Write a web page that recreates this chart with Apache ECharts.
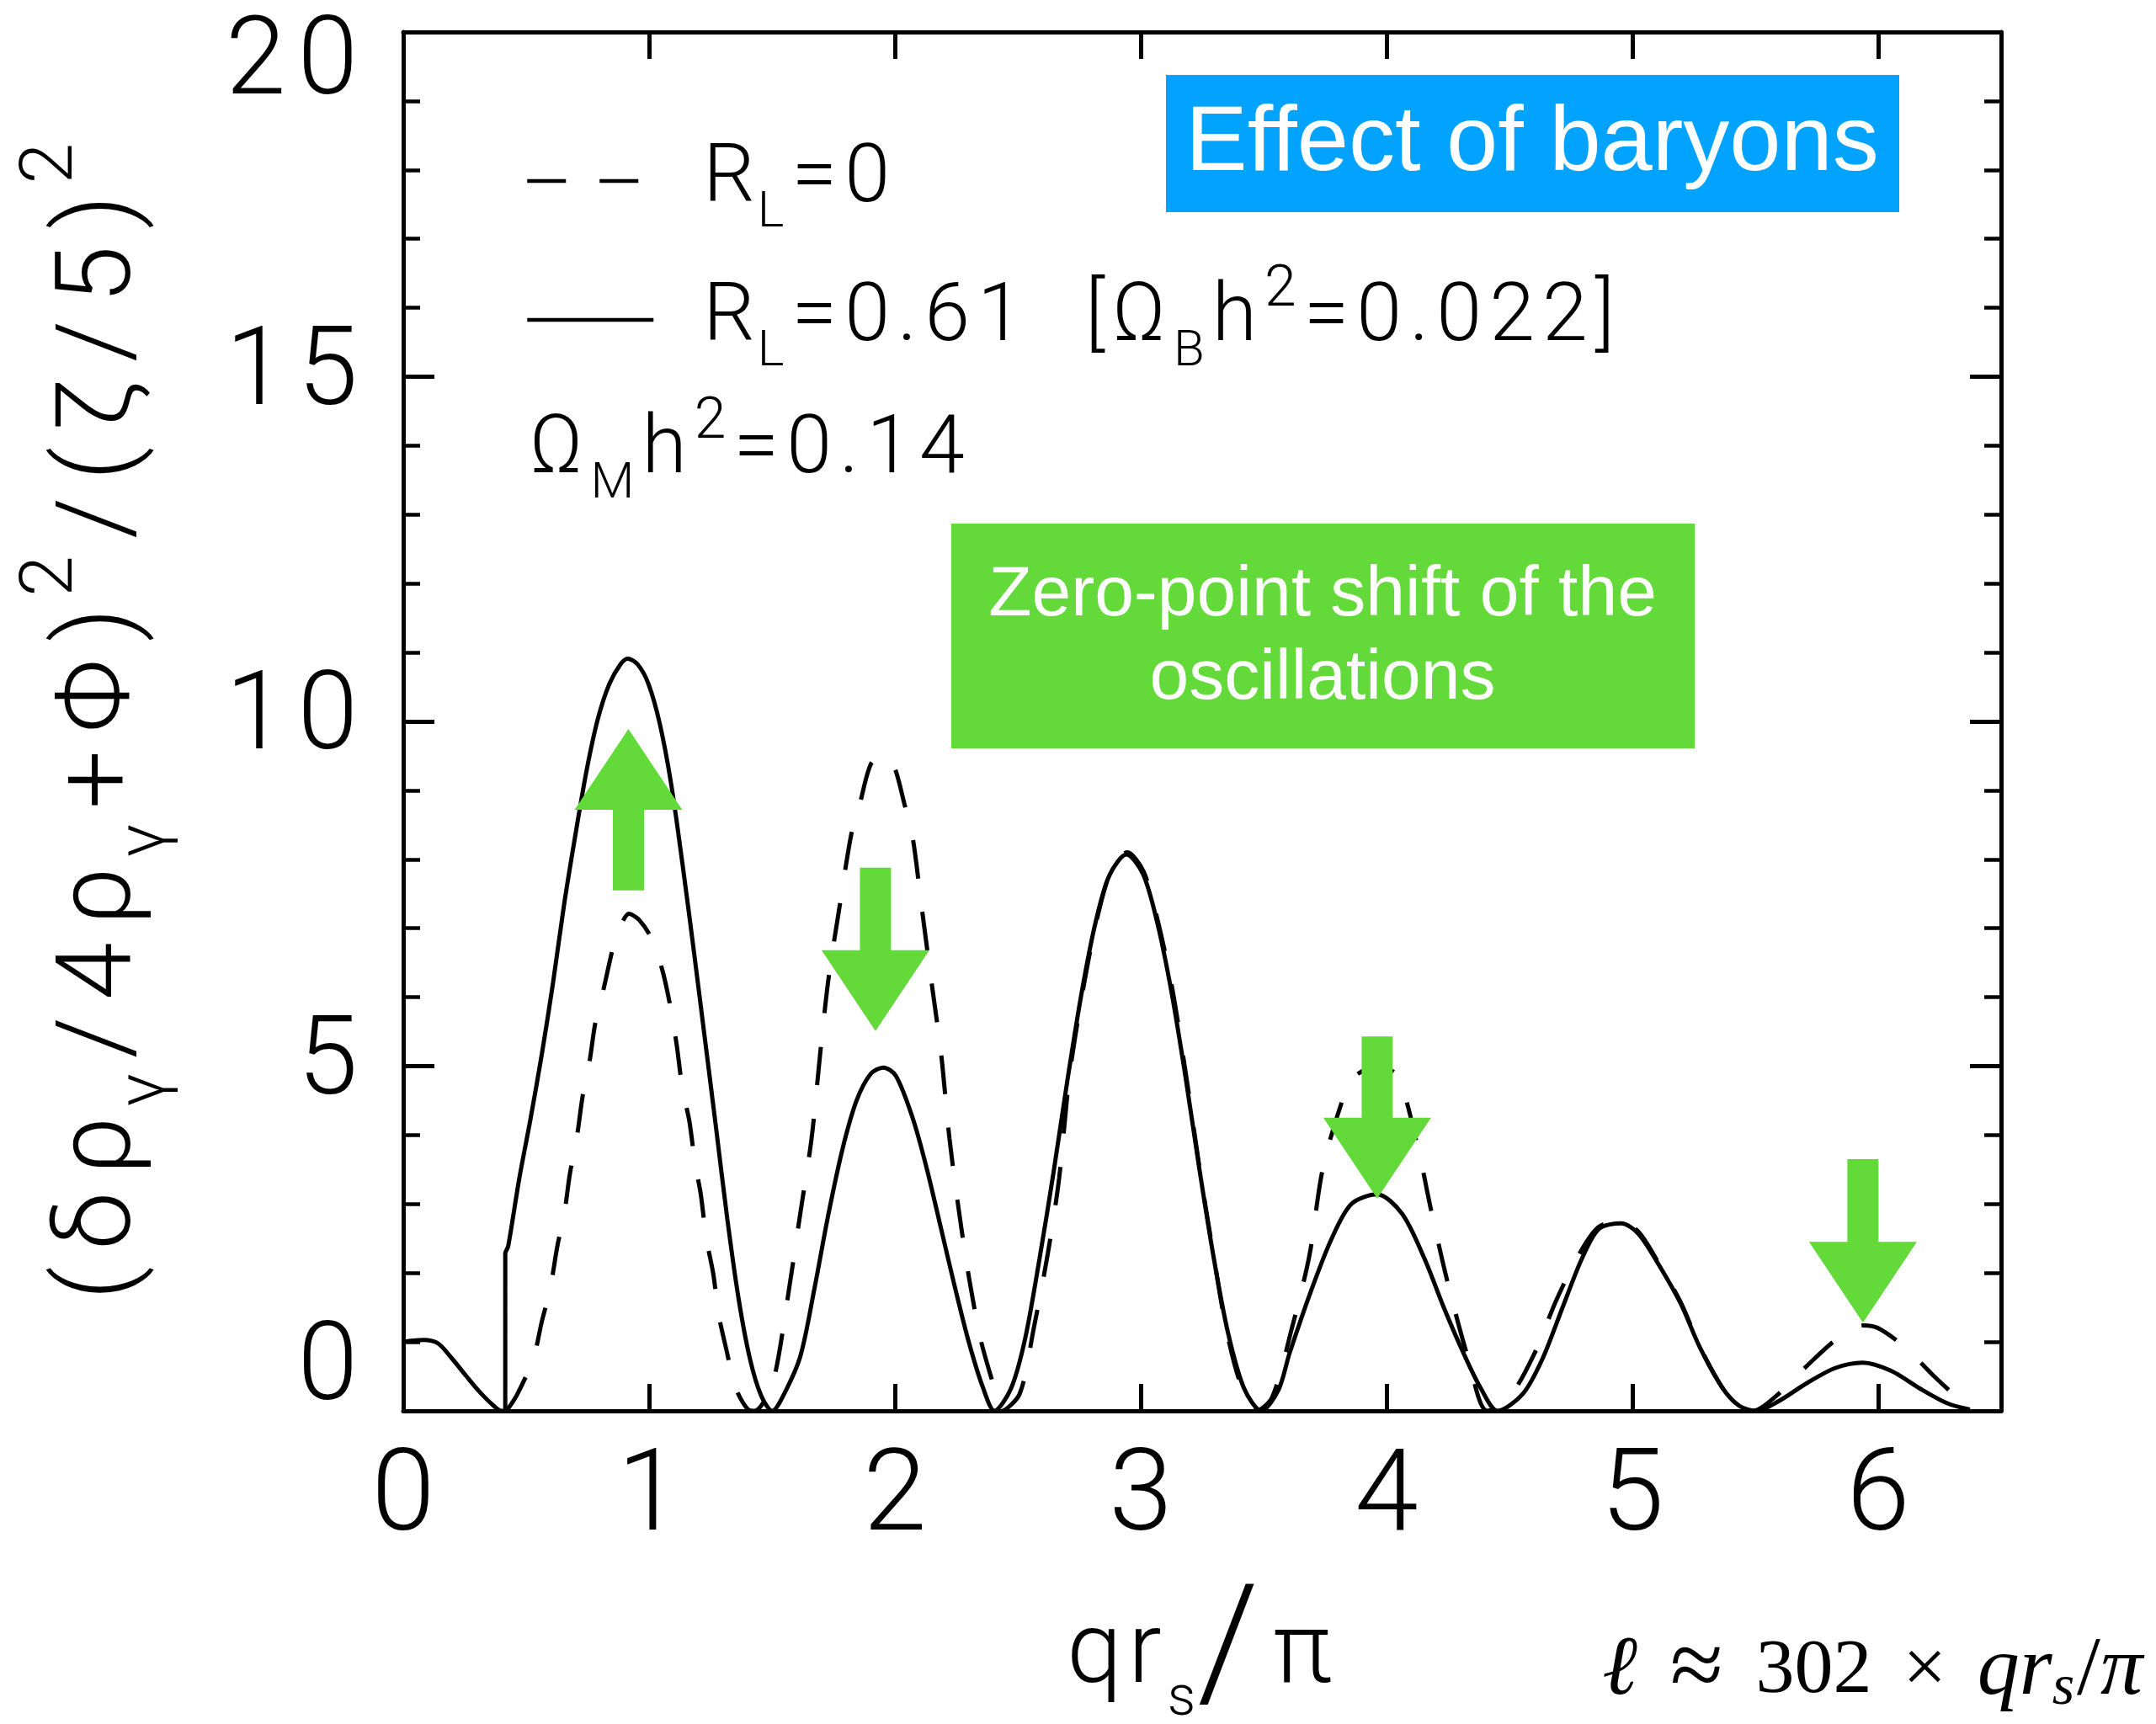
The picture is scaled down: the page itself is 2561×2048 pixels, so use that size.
<!DOCTYPE html>
<html><head><meta charset="utf-8">
<script src="https://cdn.jsdelivr.net/npm/echarts@6/dist/echarts.min.js"></script>
<style>html,body{margin:0;padding:0;background:#fff}#c{width:2561px;height:2048px}</style>
</head><body><div id="c"></div>
<script>
// ---- data ----
const solidX = [0.000,0.040,0.083,0.141,0.198,0.255,0.312,0.369,0.400,0.415,0.415,0.427,0.472,0.518,0.564,0.609,0.655,0.701,0.747,0.792,0.838,0.884,0.913,0.953,0.998,1.044,1.090,1.136,1.181,1.227,1.273,1.318,1.364,1.410,1.456,1.501,1.550,1.616,1.673,1.730,1.787,1.844,1.902,1.953,2.004,2.073,2.130,2.188,2.245,2.302,2.359,2.405,2.473,2.530,2.588,2.645,2.702,2.759,2.816,2.873,2.942,3.010,3.068,3.125,3.182,3.239,3.296,3.354,3.420,3.491,3.560,3.605,3.697,3.777,3.857,3.962,4.063,4.154,4.234,4.314,4.383,4.452,4.555,4.635,4.715,4.795,4.864,4.955,5.024,5.104,5.196,5.276,5.367,5.436,5.505,5.595,5.709,5.824,5.938,6.053,6.167,6.281,6.373];
const solidY = [1.00,1.02,1.03,0.98,0.76,0.51,0.27,0.07,0.00,0.00,2.28,2.39,3.37,4.24,5.18,6.20,7.36,8.37,9.31,10.04,10.54,10.83,10.91,10.83,10.54,9.96,9.09,7.93,6.70,5.40,4.09,2.79,1.63,0.76,0.22,0.00,0.25,0.80,1.78,2.86,3.80,4.50,4.89,4.98,4.86,4.24,3.51,2.64,1.78,0.98,0.33,0.00,0.33,1.05,2.20,3.45,4.80,6.05,7.08,7.77,8.07,7.78,7.07,6.08,4.85,3.50,2.24,1.15,0.33,0.00,0.30,0.83,1.78,2.50,3.00,3.14,2.86,2.21,1.49,0.83,0.33,0.00,0.25,0.76,1.49,2.21,2.64,2.72,2.57,2.14,1.56,0.91,0.33,0.07,0.00,0.14,0.40,0.62,0.70,0.58,0.33,0.11,0.02];
const dashedX = [0.420,0.461,0.529,0.564,0.598,0.627,0.655,0.678,0.707,0.730,0.758,0.781,0.815,0.855,0.884,0.918,0.960,1.010,1.055,1.090,1.113,1.136,1.164,1.187,1.210,1.233,1.261,1.284,1.313,1.353,1.400,1.430,1.470,1.513,1.570,1.615,1.661,1.696,1.730,1.777,1.823,1.857,1.902,1.948,1.993,2.039,2.073,2.107,2.147,2.188,2.222,2.262,2.302,2.348,2.393,2.435,2.508,2.565,2.622,2.668,2.710,2.765,2.820,2.876,2.945,3.012,3.070,3.127,3.184,3.241,3.298,3.350,3.410,3.470,3.535,3.615,3.686,3.740,3.820,3.870,3.965,4.045,4.126,4.182,4.246,4.333,4.410,4.500,4.600,4.690,4.780,4.860,4.950,5.024,5.104,5.196,5.276,5.367,5.430,5.490,5.580,5.721,5.835,5.940,6.000,6.110,6.225,6.338,6.380];
const dashedY = [0.00,0.22,0.76,1.30,1.78,2.39,2.86,3.44,3.99,4.57,5.07,5.62,6.12,6.74,7.03,7.21,7.12,6.85,6.38,5.80,5.29,4.67,4.20,3.59,3.15,2.50,1.99,1.38,0.91,0.33,0.03,0.00,0.15,0.54,1.78,2.86,3.95,5.18,6.27,7.36,8.37,8.80,9.38,9.51,9.38,8.80,8.30,7.36,6.27,5.18,3.95,2.86,1.92,1.05,0.47,0.00,0.25,1.20,2.28,3.37,4.85,6.10,7.10,7.80,8.10,7.82,7.10,6.15,4.88,3.48,2.22,1.15,0.35,0.00,0.20,1.20,2.25,3.50,4.50,4.85,5.00,4.85,3.84,2.90,1.90,0.75,0.00,0.20,0.82,1.60,2.25,2.66,2.75,2.60,2.16,1.58,0.92,0.33,0.06,0.00,0.20,0.69,1.05,1.24,1.20,0.92,0.51,0.14,0.03];
const arrowX = [0.916, 1.921, 3.962, 5.938];
const arrowFrom = [7.55, 7.88, 5.43, 3.65];
const arrowTo = [9.89, 5.51, 3.08, 1.28];
const xTickLabels = ['0','1','2','3','4','5','6'];
const yTickLabels = ['0','5','10','15','20'];
const seriesNames = ['RL=0', 'RL=0.61'];

const F = 'Roboto';
const FW = 300;
const GREEN = '#63D93A';
const BLUE = '#02A3FE';

// wrap every character of a string in its own rich token (for wider letter spacing)
function sp(str, style) { return Array.from(str).map(c => '{' + style + '|' + c + '}').join(''); }
function spLast(str, style, lastStyle) {
  const a = Array.from(str);
  return a.map((c, i) => '{' + (i === a.length - 1 ? lastStyle : style) + '|' + c + '}').join('');
}

const chart = echarts.init(document.getElementById('c'), null, {renderer: 'canvas'});

const G = 9;
const legendRich = {
  R: {fontFamily: F, fontWeight: FW, fontSize: 97, lineHeight: 110, color: '#000', verticalAlign: 'middle', padding: [0, 3, 0, 54]},
  m: {fontFamily: F, fontWeight: FW, fontSize: 97, lineHeight: 110, color: '#000', verticalAlign: 'middle', padding: [0, G, 0, 0]},
  s: {fontFamily: F, fontWeight: FW, fontSize: 60, lineHeight: 60, color: '#000', verticalAlign: 'middle', padding: [78, G, 0, 0]},
  p: {fontFamily: F, fontWeight: FW, fontSize: 68, lineHeight: 68, color: '#000', verticalAlign: 'middle', padding: [0, G, 68, 0]}
};
function legendFmt(name) {
  if (name === seriesNames[0]) return '{R|R}{s|L}' + sp('=0', 'm');
  return '{R|R}{s|L}' + sp('=0.61  [Ω', 'm') + '{s|B}{m|h}{p|2}' + sp('=0.022]', 'm');
}
const legendBase = {
  orient: 'vertical', left: 624, padding: 0, itemWidth: 150, itemHeight: 20,
  selectedMode: false, formatter: legendFmt,
  lineStyle: {width: 4.5},
  itemStyle: {color: 'rgba(0,0,0,0)', borderColor: 'rgba(0,0,0,0)', borderWidth: 0, opacity: 0},
  textStyle: {fontFamily: F, fontWeight: FW, fontSize: 97, color: '#000', rich: legendRich}
};

const yName = sp('(δρ', 'p') + '{sb|γ}' + sp('/4ρ', 'p') + '{sb|γ}' + sp('+Φ)', 'p') + '{sp|2}' + sp('/(ζ/5)', 'p') + '{sp|2}';
const xName = '{a|q}{a|r}{s|s}{sl|/}{a|π}';

const axisLineStyle = {color: '#000', width: 5};
const YG = 14;

const option = {
  backgroundColor: '#fff',
  animation: false,
  grid: {left: 479, right: 184, top: 38, bottom: 372, outerBoundsMode: 'none', containLabel: false},
  legend: [
    Object.assign({}, legendBase, {data: [seriesNames[0]], top: 146}),
    Object.assign({}, legendBase, {data: [seriesNames[1]], top: 311})
  ],
  xAxis: [{
    type: 'value', position: 'bottom', min: 0, max: 6.5, interval: 1,
    axisLine: {show: true, onZero: false, lineStyle: axisLineStyle},
    axisTick: {show: true, inside: true, length: 32, lineStyle: {color: '#000', width: 5}},
    splitLine: {show: false},
    axisLabel: {show: true, margin: 39, showMaxLabel: false, fontFamily: F, fontWeight: FW, fontSize: 136, color: '#000',
      formatter: v => { const i = Math.round(v); return (Math.abs(v - i) < 1e-6 && xTickLabels[i] !== undefined) ? xTickLabels[i] : ''; }},
    name: xName, nameLocation: 'middle', nameGap: 212, nameMoveOverlap: false,
    nameTextStyle: {fontFamily: F, fontWeight: FW, color: '#000', rich: {
      a: {fontFamily: F, fontWeight: FW, fontSize: 118, lineHeight: 130, color: '#000', verticalAlign: 'middle', padding: [0, 7, 0, 0]},
      s: {fontFamily: F, fontWeight: FW, fontSize: 66, lineHeight: 66, color: '#000', verticalAlign: 'middle', padding: [104, 2, 0, 0]},
      sl: {fontFamily: F, fontWeight: FW, fontSize: 185, lineHeight: 160, color: '#000', verticalAlign: 'middle', padding: [0, 16, 0, 0]}
    }}
  }, {
    type: 'value', position: 'top', min: 0, max: 6.5, interval: 1,
    axisLine: {show: true, onZero: false, lineStyle: axisLineStyle},
    axisTick: {show: true, inside: true, length: 32, lineStyle: {color: '#000', width: 5}},
    splitLine: {show: false}, axisLabel: {show: false}
  }],
  yAxis: [{
    type: 'value', position: 'left', min: 0, max: 20, interval: 5,
    axisLine: {show: true, onZero: false, lineStyle: axisLineStyle},
    axisTick: {show: true, inside: true, length: 37, lineStyle: {color: '#000', width: 5}},
    minorTick: {show: true, splitNumber: 5, length: 20, lineStyle: {color: '#000', width: 4.5}},
    splitLine: {show: false}, minorSplitLine: {show: false},
    axisLabel: {show: true, margin: 54, fontFamily: F, fontWeight: FW, fontSize: 129, color: '#000',
      formatter: v => {
        const i = Math.round(v / 5); const t = yTickLabels[i]; if (t === undefined) return '';
        if (i === 0) return spLast(t, 'log', 'lo');
        if (i === yTickLabels.length - 1) return spLast(t, 'hig', 'hi');
        return spLast(t, 'ng', 'n');
      },
      rich: {
        n: {fontFamily: F, fontWeight: FW, fontSize: 129, color: '#000'},
        ng: {fontFamily: F, fontWeight: FW, fontSize: 129, color: '#000', padding: [0, YG, 0, 0]},
        lo: {fontFamily: F, fontWeight: FW, fontSize: 129, color: '#000', padding: [0, 0, 92, 0]},
        log: {fontFamily: F, fontWeight: FW, fontSize: 129, color: '#000', padding: [0, YG, 92, 0]},
        hi: {fontFamily: F, fontWeight: FW, fontSize: 129, color: '#000', padding: [82, 0, 0, 0]},
        hig: {fontFamily: F, fontWeight: FW, fontSize: 129, color: '#000', padding: [82, YG, 0, 0]}
      }},
    name: yName, nameLocation: 'middle', nameGap: 286, nameRotate: 90, nameMoveOverlap: false,
    nameTextStyle: {fontFamily: F, fontWeight: FW, color: '#000', rich: {
      p: {fontFamily: F, fontWeight: FW, fontSize: 124, lineHeight: 140, color: '#000', verticalAlign: 'middle', padding: [0, 10, 0, 10]},
      sb: {fontFamily: F, fontWeight: FW, fontSize: 80, lineHeight: 80, color: '#000', verticalAlign: 'middle', padding: [104, 8, 0, 2]},
      sp: {fontFamily: F, fontWeight: FW, fontSize: 88, lineHeight: 88, color: '#000', verticalAlign: 'middle', padding: [0, 10, 120, 3]}
    }}
  }, {
    type: 'value', position: 'right', min: 0, max: 20, interval: 5,
    axisLine: {show: true, onZero: false, lineStyle: axisLineStyle},
    axisTick: {show: true, inside: true, length: 37, lineStyle: {color: '#000', width: 5}},
    minorTick: {show: true, splitNumber: 5, length: 20, lineStyle: {color: '#000', width: 4.5}},
    splitLine: {show: false}, minorSplitLine: {show: false}, axisLabel: {show: false}
  }],
  series: [{
    name: seriesNames[0], type: 'line', xAxisIndex: 0, yAxisIndex: 0,
    data: dashedX.map((x, i) => [x, dashedY[i]]),
    showSymbol: false, symbol: 'none', smooth: 0.3,
    lineStyle: {color: '#000', width: 5, type: [46, 40]}, itemStyle: {color: '#000'}, z: 2
  }, {
    name: seriesNames[1], type: 'line', xAxisIndex: 0, yAxisIndex: 0,
    data: solidX.map((x, i) => [x, solidY[i]]),
    showSymbol: false, symbol: 'none', smooth: 0.3,
    lineStyle: {color: '#000', width: 5, type: 'solid'}, itemStyle: {color: '#000'}, z: 2
  }, {
    name: 'arrows', type: 'custom', xAxisIndex: 0, yAxisIndex: 0, z: 5,
    data: arrowX.map((x, i) => [x, arrowFrom[i], arrowTo[i]]),
    encode: {x: 0, y: [1, 2]},
    renderItem: function (params, api) {
      const x = api.value(0), y0 = api.value(1), y1 = api.value(2);
      const p0 = api.coord([x, y0]);
      const p1 = api.coord([x, y1]);
      const dir = p1[1] < p0[1] ? -1 : 1;
      const headLen = 96, headHalf = 64, shaftHalf = 18.5;
      const cx = p0[0];
      const baseY = p1[1] - dir * headLen;
      const pts = [[cx - shaftHalf, p0[1]], [cx + shaftHalf, p0[1]], [cx + shaftHalf, baseY], [cx + headHalf, baseY], [cx, p1[1]], [cx - headHalf, baseY], [cx - shaftHalf, baseY]];
      return {type: 'polygon', shape: {points: pts}, style: {fill: GREEN}};
    }
  }],
  graphic: [
    {type: 'text', z: 10, style: {
      x: 629, y: 537, align: 'left', verticalAlign: 'middle',
      text: '{m|Ω}{s|M}{m|h}{p|2}' + sp('=0.14', 'm'),
      rich: {
        m: {fontFamily: F, fontWeight: FW, fontSize: 97, lineHeight: 110, fill: '#000', verticalAlign: 'middle', padding: [0, G, 0, 0]},
        s: {fontFamily: F, fontWeight: FW, fontSize: 60, lineHeight: 60, fill: '#000', verticalAlign: 'middle', padding: [78, G, 0, 0]},
        p: {fontFamily: F, fontWeight: FW, fontSize: 68, lineHeight: 68, fill: '#000', verticalAlign: 'middle', padding: [0, G, 68, 0]}
      }}},
    {type: 'rect', z: 10, shape: {x: 1385, y: 89, width: 871, height: 163}, style: {fill: BLUE}},
    {type: 'text', z: 11, style: {x: 1820, y: 172, align: 'center', verticalAlign: 'middle', text: 'Effect of baryons',
      fontFamily: 'Liberation Sans', fontSize: 110, fill: '#fff'}},
    {type: 'rect', z: 10, shape: {x: 1130, y: 622, width: 883, height: 267}, style: {fill: GREEN}},
    {type: 'text', z: 11, style: {x: 1571, y: 757, align: 'center', verticalAlign: 'middle', text: 'Zero-point shift of the\noscillations',
      fontFamily: 'Liberation Sans', fontSize: 84, lineHeight: 99, fill: '#fff'}},
    {type: 'text', z: 10, style: {
      x: 2545, y: 1986, align: 'right', verticalAlign: 'middle',
      text: '{l|ℓ}{m|\u2004}{ap|≈}{m|\u2004302\u2004}{x|×}{m|\u2004}{i|q}{i|r}{s|s}{sl|/}{i|π}',
      rich: {
        l: {fontFamily: 'Liberation Serif', fontStyle: 'italic', fontSize: 100, lineHeight: 110, fill: '#000', verticalAlign: 'middle'},
        m: {fontFamily: 'Liberation Serif', fontSize: 92, lineHeight: 110, fill: '#000', verticalAlign: 'middle'},
        ap: {fontFamily: 'Liberation Serif', fontSize: 115, lineHeight: 110, fill: '#000', verticalAlign: 'middle', padding: [0, 8, 0, 8]},
        x: {fontFamily: 'Liberation Serif', fontSize: 92, lineHeight: 110, fill: '#000', verticalAlign: 'middle', padding: [0, 6, 0, 6]},
        i: {fontFamily: 'Liberation Serif', fontStyle: 'italic', fontSize: 100, lineHeight: 110, fill: '#000', verticalAlign: 'middle'},
        s: {fontFamily: 'Liberation Serif', fontStyle: 'italic', fontSize: 68, lineHeight: 68, fill: '#000', verticalAlign: 'middle', padding: [40, 3, 0, 0]},
        sl: {fontFamily: 'Liberation Serif', fontSize: 100, lineHeight: 110, fill: '#000', verticalAlign: 'middle'}
      }}}
  ]
};
chart.setOption(option);
</script>
</body></html>
